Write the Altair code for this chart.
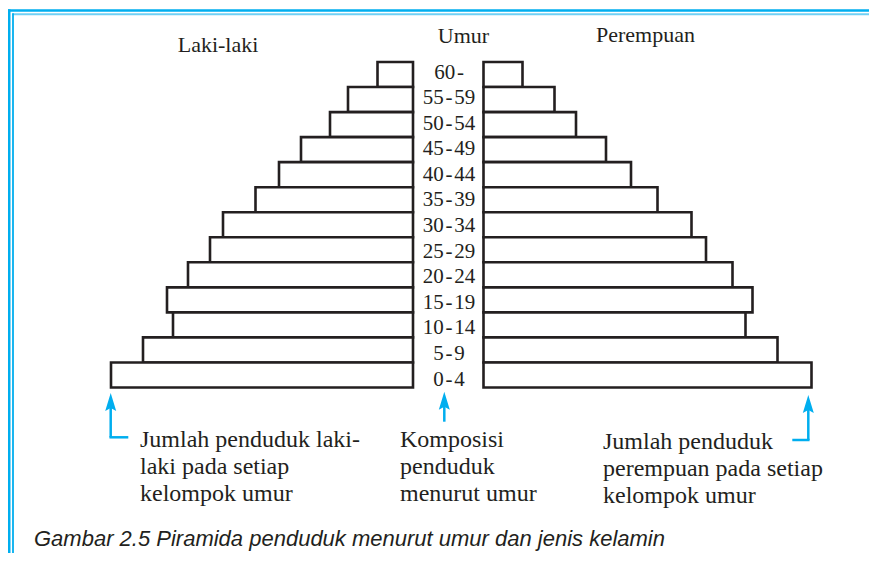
import altair as alt
import pandas as pd

# ---------------- data ----------------
ages = ["60-", "55-59", "50-54", "45-49", "40-44", "35-39", "30-34",
        "25-29", "20-24", "15-19", "10-14", "5-9", "0-4"]
male = [35.5, 65, 83, 112, 134, 157.5, 190, 203, 225, 246, 240, 270, 302]
female = [39, 71, 92.5, 122.5, 147.5, 174, 208, 222.5, 249, 269, 262, 294, 328]

heading_left = "Laki-laki"
heading_mid = "Umur"
heading_right = "Perempuan"
note_left = ["Jumlah penduduk laki-", "laki pada setiap", "kelompok umur"]
note_mid = ["Komposisi", "penduduk", "menurut umur"]
note_right = ["Jumlah penduduk", "perempuan pada setiap", "kelompok umur"]
caption = "Gambar 2.5 Piramida penduduk menurut umur dan jenis kelamin"

df = pd.DataFrame({"age": ages, "male": male, "female": female})
one = pd.DataFrame({"k": [0]})

INK = "#231f20"
BLUE = "#00aeef"
BLUE2 = "#6fd0f5"
SERIF = "Liberation Serif"

yband = alt.Scale(domain=ages, range=[54, 379.5], paddingInner=0, paddingOuter=0)

male_bars = alt.Chart(df).mark_bar(fill="white", stroke=INK, strokeWidth=2.6).encode(
    x=alt.X("male:Q", scale=alt.Scale(domain=[0, 400], range=[405, 5]), axis=None),
    y=alt.Y("age:N", sort=ages, scale=yband, axis=None),
)
female_bars = alt.Chart(df).mark_bar(fill="white", stroke=INK, strokeWidth=2.6).encode(
    x=alt.X("female:Q", scale=alt.Scale(domain=[0, 380], range=[475.5, 855.5]), axis=None),
    y=alt.Y("age:N", sort=ages, scale=yband, axis=None),
)
age_labels = alt.Chart(df).transform_calculate(
    lab="datum.age == '60-' ? '60\u200a-\u2007\u2007' : replace(datum.age, '-', '\u200a-\u200a')"
).mark_text(font=SERIF, fontSize=21, color=INK, align="center", baseline="middle").encode(
    x=alt.value(441),
    y=alt.Y("age:N", sort=ages, scale=alt.Scale(domain=ages, type="point", range=[64.5, 371.5], padding=0), axis=None),
    text="lab:N",
)


def txt(t, x, y, size, align="center", font=SERIF, style="normal", lh=27):
    return alt.Chart(one).mark_text(
        text=t, font=font, fontSize=size, color=INK, align=align,
        baseline="alphabetic", fontStyle=style, lineHeight=lh,
    ).encode(x=alt.value(x), y=alt.value(y))


def rule(x, x2, y, y2, color=BLUE, w=2.5):
    return alt.Chart(one).mark_rule(color=color, strokeWidth=w).encode(
        x=alt.value(x), x2=alt.value(x2), y=alt.value(y), y2=alt.value(y2))


HEAD = "M0,-1 L0.55,0.8 L0,0.5 L-0.55,0.8 Z"


def head(x, y, size=400):
    return alt.Chart(one).mark_point(shape=HEAD, filled=True, fill=BLUE, size=size,
                                     opacity=1, strokeWidth=0).encode(
        x=alt.value(x), y=alt.value(y))


layers = [
    # frame
    rule(0, 861, 2.5, 2.5, BLUE, 2.5),
    rule(4.5, 861, 6.3, 6.3, BLUE2, 2),
    rule(1.25, 1.25, 1.25, 545, BLUE, 2.5),
    rule(5, 5, 5.3, 545, BLUE, 1.8),
    male_bars,
    female_bars,
    age_labels,
    txt(heading_left, 210, 43.5, 22),
    txt(heading_mid, 455.5, 34.5, 22),
    txt(heading_right, 637.5, 34, 22),
    txt(note_left, 132, 439, 24, align="left"),
    txt(note_mid, 392, 439, 24, align="left"),
    txt(note_right, 595, 440.5, 24, align="left"),
    txt(caption, 26, 538, 22, align="left", font="Liberation Sans", style="italic"),
    # arrows
    rule(102.7, 102.7, 399, 429.3),
    rule(101.45, 120.3, 429.3, 429.3),
    head(102.7, 395),
    rule(436.3, 436.3, 398, 413.7),
    head(436.3, 393.7),
    rule(800.3, 800.3, 401, 432),
    rule(784.3, 801.55, 432, 432),
    head(800.3, 397),
]

chart = alt.layer(*layers).properties(
    width=861, height=545, padding=0,
    autosize=alt.AutoSizeParams(type="none"),
    background="white",
).resolve_scale(x="independent", y="independent").configure_view(stroke=None)

chart.save("out.html", embed_options={"renderer": "svg", "actions": False})
